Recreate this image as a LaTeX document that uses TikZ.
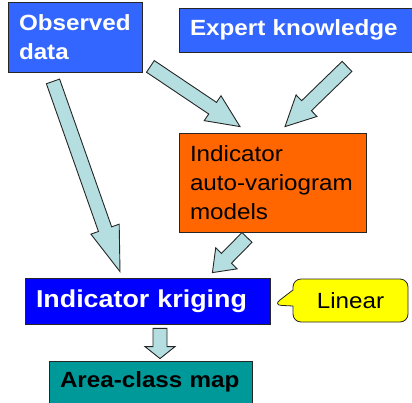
\documentclass[tikz,border=0pt]{standalone}
\usepackage{fontspec}
\usetikzlibrary{calc,shapes.callouts}

\newfontfamily\boxfont[FakeStretch=1.1]{Liberation Sans}

\definecolor{obsblue}{HTML}{3366FF}
\definecolor{krigblue}{HTML}{0000FF}
\definecolor{varorange}{HTML}{FF6600}
\definecolor{mapteal}{HTML}{009999}
\definecolor{noteyellow}{HTML}{FFFF00}
\definecolor{arrowfill}{HTML}{B4DEE0}

\tikzset{
  ik-box/.style={rectangle, draw=black!85, line width=0.8pt, inner xsep=11pt, inner ysep=0pt, align=left, font=\boxfont\fontsize{22}{29}\selectfont},
  ik-input/.style={ik-box, fill=obsblue, text=white, font=\boxfont\bfseries\fontsize{22}{29}\selectfont},
  ik-model/.style={ik-box, fill=varorange, text=black},
  ik-krig/.style={ik-box, fill=krigblue, text=white, font=\boxfont\bfseries\fontsize{24.4}{29}\selectfont},
  ik-output/.style={ik-box, fill=mapteal, text=black, font=\boxfont\bfseries\fontsize{22}{29}\selectfont},
  ik-note/.style={rectangle callout, rounded corners=8pt, draw=black!85, line width=0.8pt, fill=noteyellow, text=black, callout pointer width=16pt, inner sep=0pt, font=\boxfont\fontsize{22}{29}\selectfont},
  ik-arrow/.style={fill=arrowfill, draw=black!85, line width=0.9pt,
    to path={let \p1=(\tikztostart), \p2=(\tikztotarget) in
      ($(\p1)!7pt!90:(\p2)$) -- ($(\p2)!#1!(\p1)!7pt!90:(\p2)$) -- ($(\p2)!#1!(\p1)!15pt!90:(\p2)$) -- (\p2)
      -- ($(\p2)!#1!(\p1)!15pt!-90:(\p2)$) -- ($(\p2)!#1!(\p1)!7pt!-90:(\p2)$) -- ($(\p1)!7pt!-90:(\p2)$) -- cycle}},
  ik-arrow/.default=30pt,
}

\begin{document}
\begin{tikzpicture}[x=1pt, y=-1pt]
    \useasboundingbox (0,0) rectangle (412,402);

    % Nodes: inputs
    \node[ik-input, text width=112pt, minimum height=70pt] (od) at (75,37) {Observed\\data};
    \node[ik-input, text width=212pt, minimum height=44pt] (ek) at (296,30) {Expert knowledge};

    % Nodes: model, kriging, result
    \node[ik-model, text width=165pt, minimum height=99pt] (ivm) at (272.5,182.5) {Indicator\\\mbox{auto-variogram}\\models};
    \node[ik-krig, text width=223pt, minimum height=46pt] (ik) at (147.5,301) {Indicator kriging};
    \node[ik-output, text width=181pt, minimum height=42pt] (acm) at (150.5,382) {Area-class map};

    % Note on the kriging step
    \node[ik-note, minimum width=115pt, minimum height=43pt, callout absolute pointer={($(ik.east)+(3,4)$)}] (lin) at (350.5,300.5) {Linear};

    % Edges: block arrows
    \draw[ik-arrow=45pt] ($(od.south)+(-22,9)$) to ($(ik.north)+(-27.5,-6)$);
    \draw[ik-arrow=33pt] ($(od.south east)+(8,-6)$) to ($(ivm.north)+(-32.5,-6)$);
    \draw[ik-arrow=30pt] ($(ek.south)+(51,14)$) to ($(ivm.north)+(12.5,-6)$);
    \draw[ik-arrow=20pt] ($(ivm.south)+(-25.5,5)$) to ($(ik.north east)+(-58,-5)$);
    \draw[ik-arrow=12pt] ($(ik.south)+(12.5,4)$) to ($(acm.north)+(9.5,-2)$);

\end{tikzpicture}
\end{document}
